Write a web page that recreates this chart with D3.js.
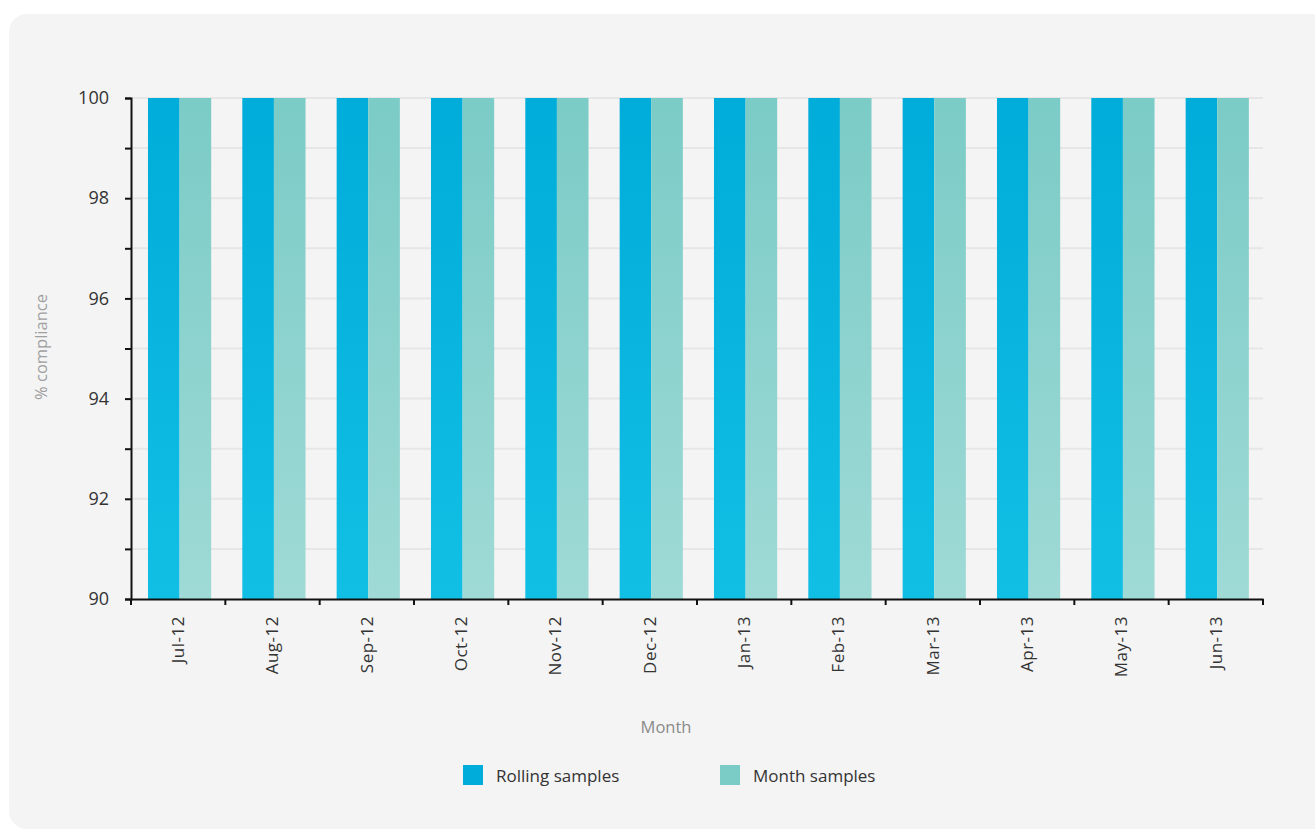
<!DOCTYPE html>
<html>
<head>
<meta charset="utf-8">
<script src="https://cdn.jsdelivr.net/npm/d3@7"></script>
<style>
  html, body { margin: 0; padding: 0; background: #ffffff; }
  svg { display: block; font-family: "Open Sans", sans-serif; }
</style>
</head>
<body>
<svg id="chart" width="1315" height="831"></svg>
<script>
// Monthly compliance, percent
const months = ["Jul-12", "Aug-12", "Sep-12", "Oct-12", "Nov-12", "Dec-12",
                "Jan-13", "Feb-13", "Mar-13", "Apr-13", "May-13", "Jun-13"];
const seriesNames = ["Rolling samples", "Month samples"];
const rollingSamples = [100, 100, 100, 100, 100, 100, 100, 100, 100, 100, 100, 100];
const monthSamples   = [100, 100, 100, 100, 100, 100, 100, 100, 100, 100, 100, 100];
const yTicks = [90, 91, 92, 93, 94, 95, 96, 97, 98, 99, 100];

const seriesValues = [rollingSamples, monthSamples];
const colors = {
  "Rolling samples": ["#00acd9", "#12bfe4"],
  "Month samples": ["#7bcbc6", "#9fdad6"]
};
const FONT = '"Open Sans", sans-serif';

const svg = d3.select("#chart");
const margin = { left: 131, right: 52, top: 98, bottom: 232 };
const W = 1315, H = 831;
const innerW = W - margin.left - margin.right;
const innerH = H - margin.top - margin.bottom;

// rounded panel behind the chart
svg.append("rect")
  .attr("x", 9).attr("y", 14)
  .attr("width", W + 20).attr("height", H - 16)
  .attr("rx", 18).attr("ry", 18)
  .attr("fill", "#f4f4f4");

// gradients for bars
const defs = svg.append("defs");
seriesNames.forEach((name, i) => {
  const g = defs.append("linearGradient")
    .attr("id", "grad" + i)
    .attr("x1", 0).attr("y1", 0).attr("x2", 0).attr("y2", 1);
  g.append("stop").attr("offset", "0%").attr("stop-color", colors[name][0]);
  g.append("stop").attr("offset", "100%").attr("stop-color", colors[name][1]);
});

const g = svg.append("g").attr("transform", `translate(${margin.left},${margin.top})`);

const x = d3.scaleBand().domain(months).range([0, innerW]).padding(0);
const x1 = d3.scaleBand().domain(seriesNames)
  .range([x.bandwidth() * 0.18, x.bandwidth() * 0.85]).padding(0);
const y = d3.scaleLinear().domain([90, 100]).range([innerH, 0]);

// gridlines
g.append("g")
  .selectAll("line")
  .data(yTicks.filter(t => t > 90))
  .join("line")
  .attr("x1", 0).attr("x2", innerW)
  .attr("y1", d => y(d)).attr("y2", d => y(d))
  .attr("stroke", "#e6e6e6").attr("stroke-width", 2);

// bars
const groups = g.append("g")
  .selectAll("g")
  .data(months)
  .join("g")
  .attr("transform", d => `translate(${x(d)},0)`);

groups.selectAll("rect")
  .data((m, i) => seriesNames.map((s, k) => ({ s, k, v: seriesValues[k][i] })))
  .join("rect")
  .attr("x", d => x1(d.s))
  .attr("width", x1.bandwidth())
  .attr("y", d => y(d.v))
  .attr("height", d => y(90) - y(d.v))
  .attr("fill", d => `url(#grad${d.k})`);

// y axis
const yAxis = g.append("g")
  .call(d3.axisLeft(y).tickValues(yTicks)
    .tickFormat(d => d % 2 === 0 ? d : "")
    .tickSize(6).tickPadding(16))
  .attr("font-family", FONT);
yAxis.select(".domain").attr("stroke", "#111").attr("stroke-width", 2);
yAxis.selectAll(".tick line").attr("stroke", "#111").attr("stroke-width", 2);
yAxis.selectAll("text").attr("fill", "#333").style("font-size", "18px");

// x axis with ticks at band boundaries
const xAxis = g.append("g").attr("transform", `translate(0,${innerH})`)
  .call(d3.axisBottom(x).tickSize(0).tickPadding(12))
  .attr("font-family", FONT);
xAxis.select(".domain").attr("stroke", "#111").attr("stroke-width", 2);
xAxis.selectAll("text")
  .attr("fill", "#333").style("font-size", "17px")
  .style("letter-spacing", "0.5px")
  .attr("text-anchor", "end")
  .attr("transform", "rotate(-90)")
  .attr("x", -17).attr("y", 0).attr("dy", "0.35em");
xAxis.append("g")
  .selectAll("line")
  .data(d3.range(months.length + 1))
  .join("line")
  .attr("x1", i => i * x.step()).attr("x2", i => i * x.step())
  .attr("y1", 0).attr("y2", 6)
  .attr("stroke", "#111").attr("stroke-width", 2);

// axis titles
svg.append("text")
  .attr("x", 666).attr("y", 733)
  .attr("text-anchor", "middle")
  .attr("fill", "#8a8a8a").style("font-size", "16.5px")
  .text("Month");
svg.append("text")
  .attr("transform", `translate(47,${347}) rotate(-90)`)
  .attr("text-anchor", "middle")
  .attr("fill", "#a0a0a0").style("font-size", "16.5px")
  .text("% compliance");

// legend
const legendX = [463, 720];
const legend = svg.append("g")
  .selectAll("g")
  .data(seriesNames)
  .join("g")
  .attr("transform", (d, i) => `translate(${legendX[i]},765)`);
legend.append("rect")
  .attr("width", 20).attr("height", 20)
  .attr("fill", (d, i) => colors[d][0]);
legend.append("text")
  .attr("x", 33).attr("y", 11).attr("dy", "0.35em")
  .attr("fill", "#333").style("font-size", "17px")
  .text(d => d);
</script>
</body>
</html>
